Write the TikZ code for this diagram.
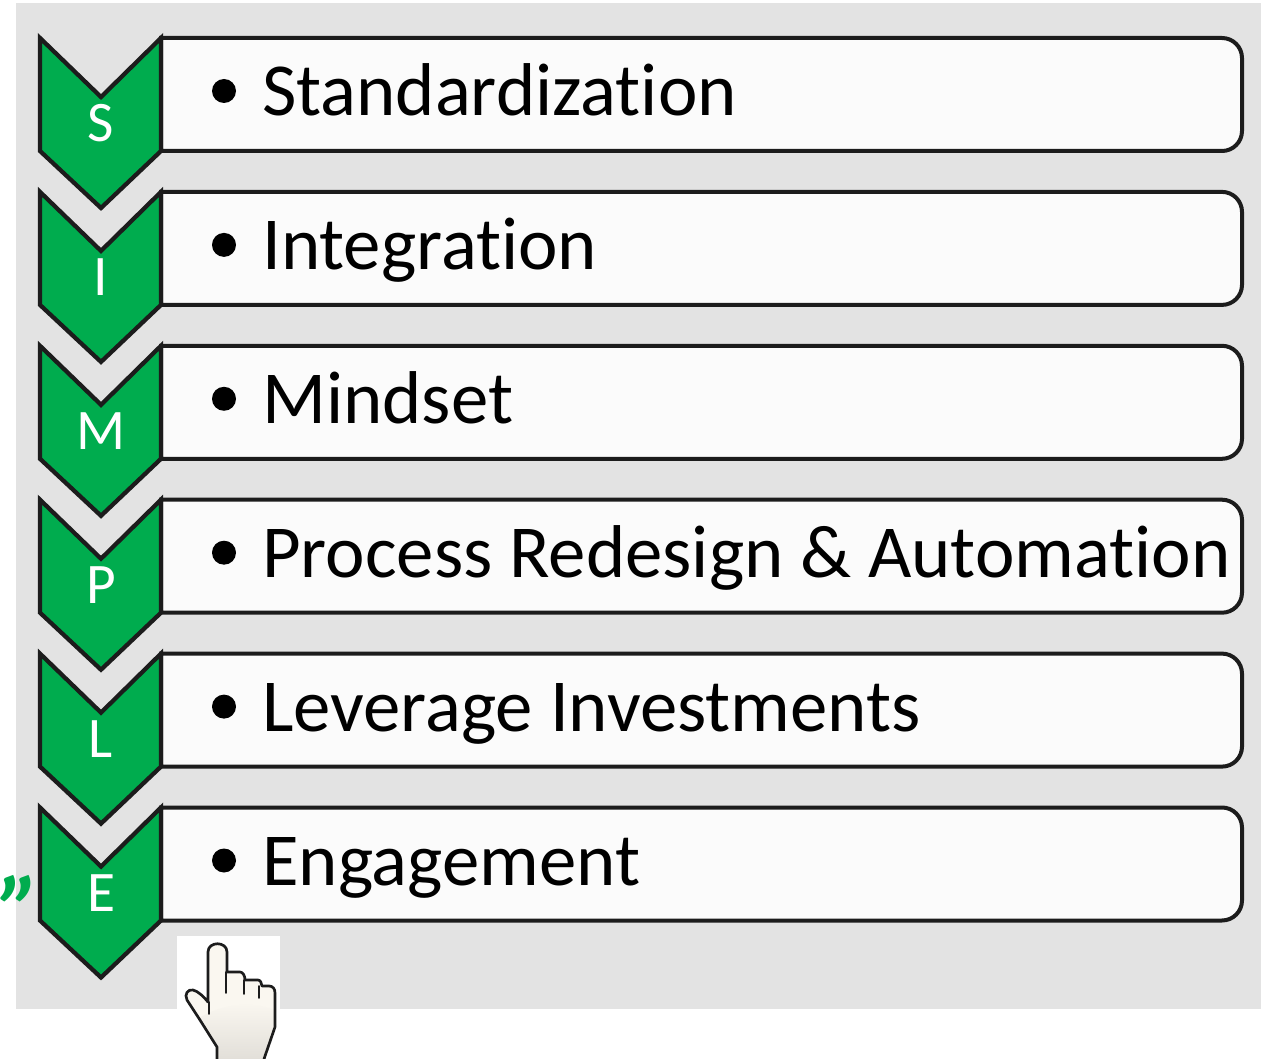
\documentclass[tikz,border=0pt]{standalone}
\usepackage{fontspec}
\setmainfont{Carlito}[Ligatures=NoCommon]
\usetikzlibrary{calc}
\definecolor{pagegray}{HTML}{E3E3E3}
\definecolor{chevgreen}{HTML}{00AC4E}
\definecolor{boxfill}{HTML}{FBFBFB}
\definecolor{outline}{HTML}{1C1C1C}
\definecolor{handfill}{HTML}{FAF7F0}
\definecolor{handlow}{HTML}{E2DFD9}
\tikzset{
  x=0.75pt,y=-0.75pt,
  chev/.style={draw=outline,line width=3.2pt,fill=chevgreen,line join=miter,miter limit=10},
  rowbox/.style={draw=outline,line width=3pt,fill=boxfill},
  rowtext/.style={anchor=base west,inner sep=0pt,font=\fontsize{56.1pt}{56.1pt}\selectfont,text=black},
  bul/.style={anchor=center,inner sep=0pt,circle,fill=black,minimum size=18pt},
  letter/.style={anchor=base,inner sep=0pt,font=\fontsize{43pt}{43pt}\selectfont,text=white},
  quotemark/.style={anchor=center,inner sep=0pt,font=\fontsize{72pt}{72pt}\bfseries\itshape\selectfont,text=chevgreen},
  handline/.style={draw=outline,line width=2pt,line join=round,line cap=round},
}
\begin{document}
\begin{tikzpicture}
\useasboundingbox (0,0) rectangle (1261,1059);
\fill[white] (0,0) rectangle (1261,1059);
\fill[pagegray] (16,3) rectangle (1261,1009);
\foreach \i/\ltr/\txt/\lb in {
  0/S/Standardization/a,
  1/I/Integration/b,
  2/M/Mindset/c,
  3/P/Process Redesign \& Automation/d,
  4/L/Leverage Investments/e,
  5/E/Engagement/f}{
  \begin{scope}[shift={(0,{\i*153.9})}]
    \draw[rowbox] (161,38) [rounded corners=15pt] -- (1242,38) -- (1242,151) [sharp corners] -- (161,151) -- cycle;
    \draw[chev] (40,38) -- (101,97) -- (161,38) -- (161,151) -- (101,208) -- (40,151) -- cycle;
    \node[letter] (letter\lb) at (101,142) {\ltr};
    \node[bul] (bullet\lb) at (224,91) {};
    \node[rowtext] (label\lb) at (262,116) {\txt};
  \end{scope}
}
\node[quotemark] (closequote) at (20,910) {”};
% pointing hand
\fill[white] (177,936) rectangle (280,1059);
\path[fill=handfill] (217,1059) -- (217,1047) -- (200,1020) -- (187,1000)
  .. controls (184,994) and (188,989) .. (193,990)
  .. controls (198,991) and (204,997) .. (208,1002) -- (208,952)
  .. controls (208,941) and (227,941) .. (227,952) -- (227,972) -- (240,972)
  .. controls (243,972) and (245,976) .. (245,980) -- (258,980)
  .. controls (260,980) and (262,983) .. (262,986)
  -- (269,986) .. controls (273,986) and (275,989) .. (275,993)
  -- (275,1027) -- (264,1059) -- cycle;
\shade[top color=handfill,bottom color=handlow] (199,1018) .. controls (225,1002) and (255,1002) .. (275,1010) -- (275,1027) -- (264,1059) -- (217,1059) -- (217,1047) -- cycle;
\draw[handline] (217,1059) -- (217,1047) -- (200,1020) -- (187,1000)
  .. controls (184,994) and (188,989) .. (193,990)
  .. controls (198,991) and (204,997) .. (208,1002) -- (208,952)
  .. controls (208,941) and (227,941) .. (227,952) -- (227,972) -- (240,972)
  .. controls (243,972) and (245,976) .. (245,980) -- (258,980)
  .. controls (260,980) and (262,983) .. (262,986)
  -- (269,986) .. controls (273,986) and (275,989) .. (275,993)
  -- (275,1027) -- (264,1059);
\draw[handline,line width=1.2pt] (209,1002) -- (209,1014);
\draw[handline,line width=1.2pt] (226,972) -- (226,993);
\draw[handline,line width=1.2pt] (244,980) -- (244,994);
\draw[handline,line width=1.2pt] (259,986) -- (259,998);
\end{tikzpicture}
\end{document}
